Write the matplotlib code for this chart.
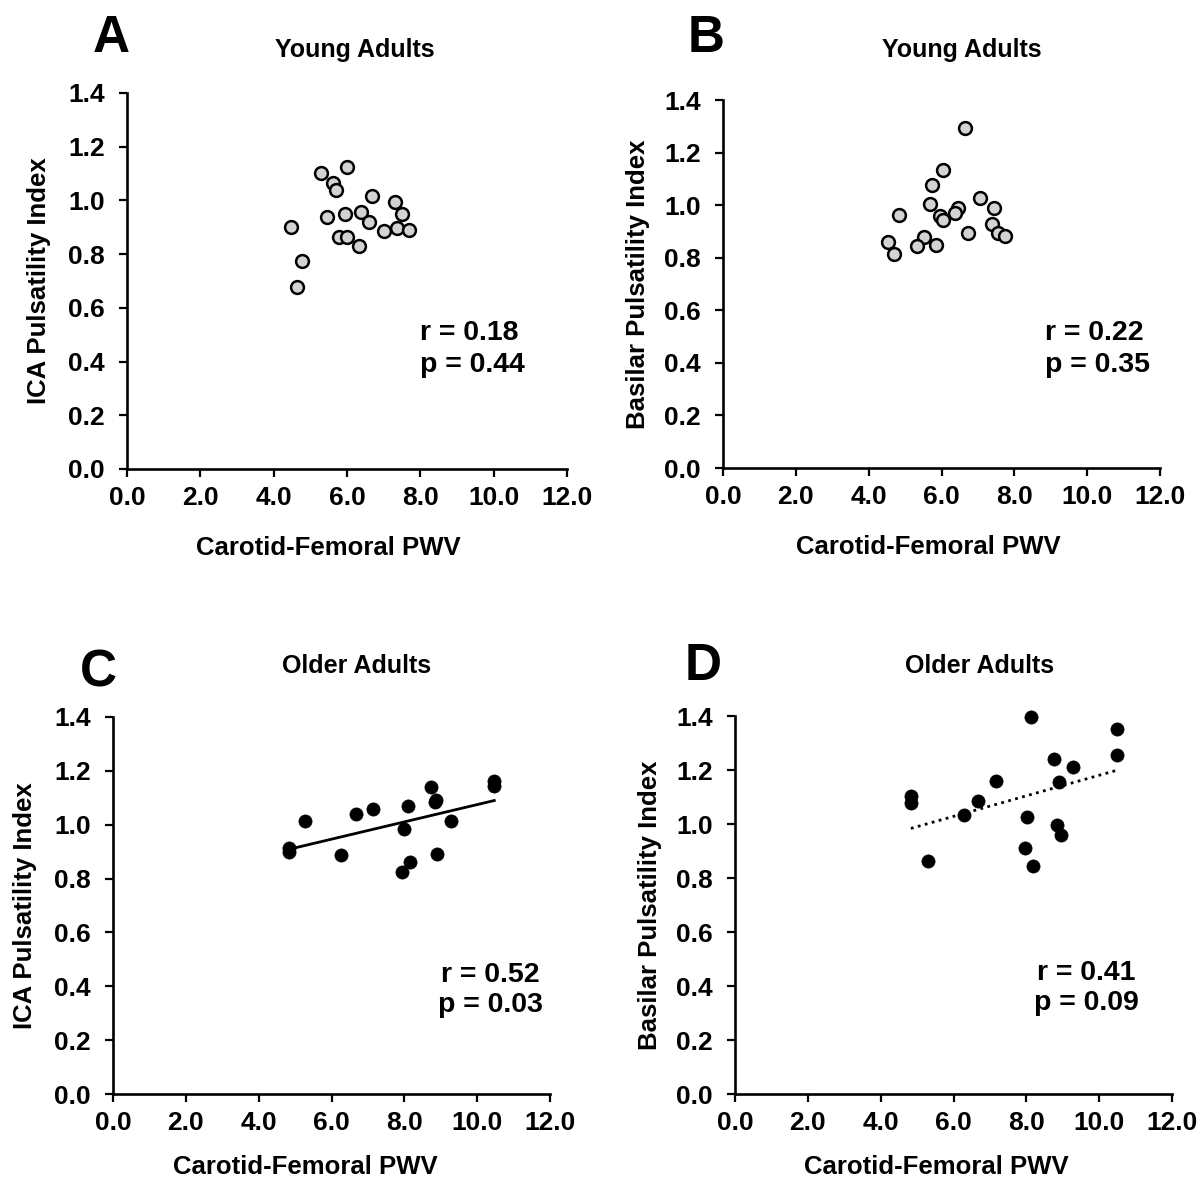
import numpy as np
import matplotlib
matplotlib.use("Agg")
import matplotlib.pyplot as plt
from matplotlib.ticker import FormatStrFormatter

plt.rcParams["font.family"] = ["Liberation Sans", "DejaVu Sans"]
plt.rcParams["font.weight"] = "bold"

# Young adults (panels A, B)
young_pwv_ica = [5.99, 5.29, 5.63, 5.70, 6.68, 7.32, 5.46, 5.94, 6.39, 7.50,
                 6.59, 4.48, 7.01, 7.37, 7.70, 5.78, 5.99, 6.34, 4.77, 4.63]
young_ica_pi = [1.123, 1.102, 1.064, 1.037, 1.016, 0.994, 0.940, 0.949, 0.956, 0.948,
                0.921, 0.900, 0.886, 0.896, 0.889, 0.864, 0.864, 0.829, 0.775, 0.679]

young_pwv_bas = [6.65, 6.04, 5.73, 7.05, 5.68, 7.44, 6.45, 6.37, 4.82, 5.97,
                 6.04, 7.38, 6.74, 7.55, 7.75, 5.51, 4.52, 5.33, 5.86, 4.69]
young_bas_pi = [1.292, 1.135, 1.078, 1.029, 1.005, 0.988, 0.990, 0.971, 0.961, 0.960,
                0.943, 0.928, 0.893, 0.893, 0.884, 0.880, 0.859, 0.844, 0.847, 0.815]

# Older adults (panels C, D)
old_pwv_ica = [8.74, 10.47, 10.47, 8.84, 8.87, 5.27, 6.66, 7.15, 8.11, 9.27,
               7.99, 4.82, 4.82, 6.27, 8.89, 8.16, 7.94]
old_ica_pi = [1.140, 1.161, 1.142, 1.084, 1.090, 1.015, 1.040, 1.059, 1.071, 1.015,
              0.983, 0.914, 0.899, 0.886, 0.891, 0.861, 0.823]

old_pwv_bas = [8.14, 10.48, 10.48, 8.75, 9.29, 7.17, 8.89, 4.83, 4.83, 6.68,
               6.29, 8.01, 8.84, 8.95, 7.96, 5.30, 8.17]
old_bas_pi = [1.397, 1.352, 1.255, 1.239, 1.210, 1.160, 1.156, 1.104, 1.076, 1.085,
              1.032, 1.026, 0.995, 0.958, 0.911, 0.862, 0.844]

W, H = 1203, 1181
fig = plt.figure(figsize=(W / 100, H / 100), dpi=100)


def px_axes(left, top, right, bottom):
    return fig.add_axes([left / W, 1 - bottom / H, (right - left) / W, (bottom - top) / H])


def style(ax, ylabel, ypad, xpad, xlab_pos):
    ax.set_xlim(0, 12)
    ax.set_ylim(0, 1.4)
    ax.set_xticks(np.arange(0, 12.1, 2))
    ax.set_yticks(np.arange(0, 1.41, 0.2))
    ax.xaxis.set_major_formatter(FormatStrFormatter("%.1f"))
    ax.yaxis.set_major_formatter(FormatStrFormatter("%.1f"))
    for s in ["top", "right"]:
        ax.spines[s].set_visible(False)
    for s in ["left", "bottom"]:
        ax.spines[s].set_linewidth(1.9)
    ax.tick_params(direction="out", length=6, width=1.6, labelsize=19)
    ax.tick_params(axis="x", pad=6)
    ax.tick_params(axis="y", pad=10)
    for lab in ax.get_xticklabels() + ax.get_yticklabels():
        lab.set_fontweight("bold")
    ax.set_xlabel("Carotid-Femoral PWV", fontsize=18.5, fontweight="bold", labelpad=xpad)
    ax.xaxis.label.set_x(xlab_pos)
    ax.set_ylabel(ylabel, fontsize=18.5, fontweight="bold", labelpad=ypad)
    ax.patch.set_alpha(0)


axA = px_axes(127, 93, 567, 469)
axB = px_axes(723, 100, 1160, 468)
axC = px_axes(113, 717, 550, 1094)
axD = px_axes(735, 716, 1172, 1094)

grey = dict(s=85, facecolor="#d3d3d3", edgecolor="black", linewidths=1.8, zorder=3, clip_on=False)
black = dict(s=90, facecolor="black", edgecolor="black", linewidths=0.5, zorder=3, clip_on=False)

axA.scatter(young_pwv_ica, young_ica_pi, **grey)
axB.scatter(young_pwv_bas, young_bas_pi, **grey)
axC.scatter(old_pwv_ica, old_ica_pi, **black)
axD.scatter(old_pwv_bas, old_bas_pi, **black)

# regression lines for older adults
xc = np.array(old_pwv_ica)
m, b = np.polyfit(xc, old_ica_pi, 1)
xs = np.array([xc.min(), xc.max()])
axC.plot(xs, m * xs + b, color="black", lw=2.0, zorder=2)

xd = np.array(old_pwv_bas)
m, b = np.polyfit(xd, old_bas_pi, 1)
xs = np.array([xd.min(), xd.max()])
axD.plot(xs, m * xs + b, color="black", lw=2.0, linestyle=(0, (1, 1.6)), zorder=2)

style(axA, "ICA Pulsatility Index", 12, 19, 0.457)
style(axB, "Basilar Pulsatility Index", 10, 19, 0.47)
style(axC, "ICA Pulsatility Index", 12, 15, 0.44)
style(axD, "Basilar Pulsatility Index", 10, 15, 0.46)


def ftext(x, y, s, **kw):
    fig.text(x / W, 1 - y / H, s, fontweight="bold", **kw)


ftext(111, 39, "A", fontsize=37, ha="center", va="center")
ftext(706, 39, "B", fontsize=37, ha="center", va="center")
ftext(98, 673, "C", fontsize=37, ha="center", va="center")
ftext(703, 666, "D", fontsize=37, ha="center", va="center")

ftext(355, 50, "Young Adults", fontsize=18, ha="center", va="center")
ftext(962, 50, "Young Adults", fontsize=18, ha="center", va="center")
ftext(357, 666, "Older Adults", fontsize=18, ha="center", va="center")
ftext(980, 666, "Older Adults", fontsize=18, ha="center", va="center")

ftext(420, 349, "r = 0.18\np = 0.44", fontsize=20.5, ha="left", va="center", linespacing=1.25)
ftext(1045, 349, "r = 0.22\np = 0.35", fontsize=20.5, ha="left", va="center", linespacing=1.25)
ftext(490, 990, "r = 0.52\np = 0.03", fontsize=20.5, ha="center", va="center",
      multialignment="center", linespacing=1.25)
ftext(1086, 988, "r = 0.41\np = 0.09", fontsize=20.5, ha="center", va="center",
      multialignment="center", linespacing=1.25)

fig.savefig("out.png", dpi=100, facecolor="white")
